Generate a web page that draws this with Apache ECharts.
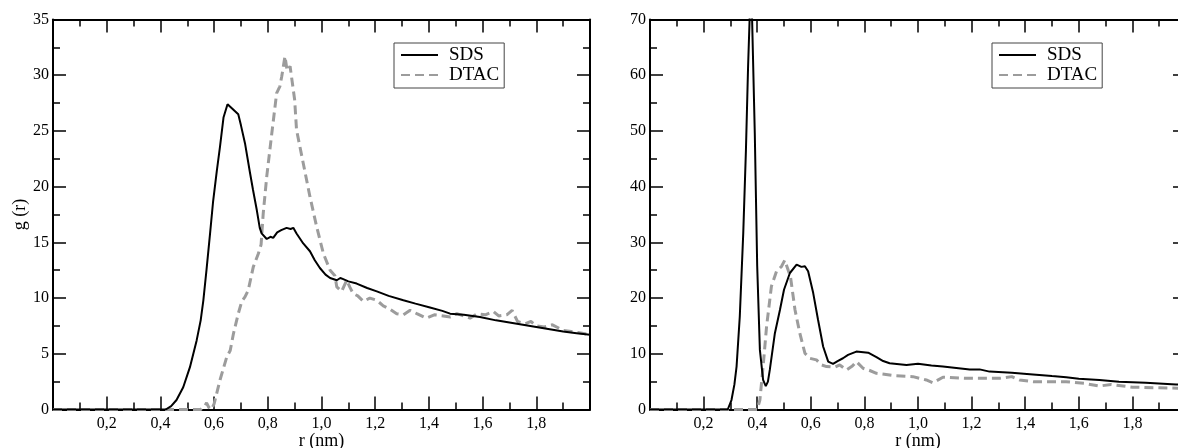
<!DOCTYPE html>
<html>
<head>
<meta charset="utf-8">
<script src="https://cdn.jsdelivr.net/npm/echarts@6/dist/echarts.min.js"></script>
<style>
html,body{margin:0;padding:0;background:#fff;}
#chart{width:1178px;height:448px;}
</style>
</head>
<body>
<div id="chart"></div>
<script>
// ---- Data ----
const seriesNames = ['SDS', 'DTAC'];
const xAxisTitle = 'r (nm)';
const yAxisTitle = 'g (r)';

// Left panel, SDS
const leftSdsR = [0, 0.42, 0.44, 0.46, 0.485, 0.51, 0.535, 0.55, 0.56, 0.572, 0.585, 0.596, 0.61, 0.622, 0.635, 0.65, 0.69, 0.70, 0.715, 0.734, 0.745, 0.759, 0.77, 0.777, 0.796, 0.81, 0.82, 0.835, 0.85, 0.87, 0.885, 0.895, 0.907, 0.932, 0.957, 0.975, 0.994, 1.015, 1.032, 1.057, 1.07, 1.081, 1.1, 1.131, 1.17, 1.206, 1.25, 1.305, 1.35, 1.404, 1.45, 1.479, 1.53, 1.59, 1.65, 1.7, 1.75, 1.8, 1.85, 1.9, 1.95, 2.0];
const leftSdsG = [0, 0, 0.3, 0.85, 2.0, 3.8, 6.2, 8.0, 9.8, 12.6, 15.8, 18.6, 21.4, 23.6, 26.2, 27.4, 26.5, 25.5, 23.9, 21.2, 19.7, 17.9, 16.3, 15.8, 15.3, 15.5, 15.4, 15.9, 16.1, 16.3, 16.2, 16.3, 15.8, 14.9, 14.2, 13.4, 12.7, 12.1, 11.8, 11.6, 11.8, 11.7, 11.5, 11.3, 10.9, 10.6, 10.2, 9.8, 9.5, 9.15, 8.85, 8.6, 8.5, 8.3, 8.0, 7.8, 7.6, 7.4, 7.2, 7.0, 6.85, 6.7];

// Left panel, DTAC
const leftDtacR = [0, 0.55, 0.565, 0.572, 0.58, 0.59, 0.6, 0.622, 0.647, 0.66, 0.672, 0.69, 0.703, 0.715, 0.727, 0.746, 0.765, 0.775, 0.783, 0.796, 0.815, 0.833, 0.845, 0.852, 0.864, 0.872, 0.883, 0.9, 0.907, 0.932, 0.957, 0.982, 1.007, 1.032, 1.05, 1.057, 1.075, 1.094, 1.105, 1.118, 1.135, 1.156, 1.18, 1.206, 1.23, 1.255, 1.28, 1.305, 1.33, 1.355, 1.39, 1.42, 1.454, 1.48, 1.504, 1.53, 1.553, 1.58, 1.61, 1.64, 1.66, 1.69, 1.71, 1.73, 1.76, 1.78, 1.8, 1.83, 1.86, 1.9, 1.93, 1.96, 2.0];
const leftDtacG = [0, 0, 0.3, 0.6, 0.2, 0, 0.5, 2.65, 4.7, 5.3, 6.8, 8.6, 9.7, 10.1, 10.7, 12.8, 14.0, 14.8, 17.6, 20.9, 24.8, 28.4, 29.0, 29.9, 31.7, 30.4, 30.8, 27.8, 25.1, 22.1, 19.1, 16.4, 14.0, 12.5, 12.0, 11.0, 10.6, 11.6, 11.0, 10.4, 10.2, 9.7, 10.0, 9.8, 9.3, 9.0, 8.6, 8.5, 8.9, 8.6, 8.2, 8.5, 8.4, 8.3, 8.6, 8.4, 8.2, 8.6, 8.5, 8.8, 8.4, 8.5, 8.9, 7.9, 7.7, 7.9, 7.5, 7.4, 7.6, 7.1, 7.0, 6.9, 6.7];

// Right panel, SDS
const rightSdsR = [0, 0.29, 0.304, 0.315, 0.323, 0.335, 0.348, 0.358, 0.366, 0.373, 0.377, 0.381, 0.391, 0.4, 0.41, 0.422, 0.432, 0.44, 0.447, 0.466, 0.485, 0.5, 0.522, 0.547, 0.565, 0.578, 0.59, 0.609, 0.627, 0.646, 0.665, 0.683, 0.7, 0.72, 0.739, 0.77, 0.814, 0.845, 0.87, 0.894, 0.957, 1.0, 1.05, 1.093, 1.193, 1.23, 1.267, 1.35, 1.429, 1.5, 1.553, 1.6, 1.677, 1.75, 1.85, 1.963, 2.0];
const rightSdsG = [0, 0, 1.7, 4.5, 7.7, 16.7, 31.7, 46.6, 61.6, 72, 74, 70, 49.6, 25.7, 10.7, 5.3, 4.2, 5.0, 7.1, 13.7, 17.9, 21.5, 24.5, 26.0, 25.6, 25.7, 24.8, 20.9, 16.1, 11.3, 8.6, 8.2, 8.7, 9.2, 9.8, 10.4, 10.2, 9.4, 8.7, 8.3, 8.0, 8.2, 7.9, 7.7, 7.2, 7.2, 6.8, 6.6, 6.3, 6.0, 5.8, 5.5, 5.3, 5.0, 4.8, 4.5, 4.4];

// Right panel, DTAC
const rightDtacR = [0, 0.4, 0.41, 0.422, 0.435, 0.453, 0.472, 0.491, 0.503, 0.51, 0.517, 0.524, 0.541, 0.559, 0.578, 0.596, 0.621, 0.64, 0.659, 0.69, 0.708, 0.733, 0.755, 0.77, 0.795, 0.82, 0.845, 0.907, 0.981, 1.031, 1.056, 1.093, 1.18, 1.267, 1.305, 1.35, 1.379, 1.43, 1.553, 1.62, 1.677, 1.72, 1.8, 1.9, 2.0];
const rightDtacG = [0, 0, 1.7, 7.7, 14.9, 22.1, 24.8, 25.7, 26.8, 26.9, 24.8, 23.9, 17.9, 13.7, 10.1, 9.2, 8.9, 8.0, 7.7, 7.6, 8.0, 7.1, 7.8, 8.6, 7.4, 7.0, 6.5, 6.1, 5.9, 5.3, 4.8, 5.8, 5.6, 5.6, 5.6, 5.9, 5.3, 5.0, 5.0, 4.7, 4.2, 4.5, 4.0, 3.9, 3.8];

// Axis ranges / ticks
const xMin = 0, xMax = 2, xStep = 0.2;
const leftYMax = 35, leftYStep = 5;
const rightYMax = 70, rightYStep = 10;

// ---- Build ----
const zip = (a, b) => a.map((v, i) => [v, b[i]]);
const FONT = 'Liberation Serif';
const BLACK = '#000';
const GRAY = '#9c9c9c';

function xLabel(v) {
  if (Math.abs(v) < 1e-9 || Math.abs(v - xMax) < 1e-9) return '';
  return v.toFixed(1).replace('.', ',');
}

function baseAxis(extra) {
  return Object.assign({
    type: 'value',
    nameMoveOverlap: false,
    axisLine: { show: true, onZero: false, lineStyle: { color: BLACK, width: 2 } },
    axisTick: { show: true, inside: true, length: 13, lineStyle: { color: BLACK, width: 1.5 } },
    minorTick: { show: true, splitNumber: 2, length: 7, lineStyle: { color: BLACK, width: 1.5 } },
    splitLine: { show: false },
    minorSplitLine: { show: false }
  }, extra);
}

const xAxes = [];
const yAxes = [];
[0, 1].forEach(g => {
  xAxes.push(baseAxis({
    gridIndex: g, position: 'bottom', min: xMin, max: xMax, interval: xStep,
    name: xAxisTitle, nameLocation: 'middle', nameGap: 23,
    nameTextStyle: { fontFamily: FONT, fontSize: 18, color: BLACK },
    axisLabel: { show: true, margin: 6, formatter: xLabel, fontFamily: FONT, fontSize: 16, color: BLACK }
  }));
  xAxes.push(baseAxis({
    gridIndex: g, position: 'top', min: xMin, max: xMax, interval: xStep,
    axisLabel: { show: false }
  }));
});
[[0, leftYMax, leftYStep], [1, rightYMax, rightYStep]].forEach(([g, mx, st]) => {
  yAxes.push(baseAxis({
    gridIndex: g, position: 'left', min: 0, max: mx, interval: st,
    name: g === 0 ? yAxisTitle : '', nameLocation: 'middle', nameGap: 24,
    nameTextStyle: { fontFamily: FONT, fontSize: 18, color: BLACK },
    axisLabel: { show: true, margin: 4, fontFamily: FONT, fontSize: 16, color: BLACK }
  }));
  yAxes.push(baseAxis({
    gridIndex: g, position: 'right', min: 0, max: mx, interval: st,
    axisLabel: { show: false }
  }));
});

function lineSeries(name, data, xi, yi) {
  const isSds = name === 'SDS';
  return {
    name, type: 'line', data, xAxisIndex: xi, yAxisIndex: yi,
    symbol: 'none', smooth: false, clip: true, z: isSds ? 3 : 2,
    lineStyle: isSds ? { color: BLACK, width: 2 } : { color: GRAY, width: 3, type: [9, 5] },
    itemStyle: { color: isSds ? BLACK : GRAY }
  };
}

function legendAt(left) {
  return {
    left, top: 43, orient: 'vertical', data: seriesNames, selectedMode: false,
    itemWidth: 37, itemHeight: 14, itemGap: 0, padding: [2, 5, 3, 6],
    borderColor: '#444', borderWidth: 1, backgroundColor: '#fff',
    itemStyle: { opacity: 0 },
    textStyle: { fontFamily: FONT, fontSize: 19, color: BLACK, lineHeight: 20, padding: [0, 0, 0, 6] }
  };
}

const option = {
  animation: false,
  backgroundColor: '#fff',
  textStyle: { fontFamily: FONT },
  grid: [
    { left: 53, top: 19.5, width: 537, height: 390, outerBoundsMode: 'none', containLabel: false },
    { left: 650, top: 19.5, width: 536, height: 390, outerBoundsMode: 'none', containLabel: false }
  ],
  xAxis: xAxes,
  yAxis: yAxes,
  legend: [legendAt(394), legendAt(992)],
  series: [
    lineSeries('DTAC', zip(leftDtacR, leftDtacG), 0, 0),
    lineSeries('SDS', zip(leftSdsR, leftSdsG), 0, 0),
    lineSeries('DTAC', zip(rightDtacR, rightDtacG), 2, 2),
    lineSeries('SDS', zip(rightSdsR, rightSdsG), 2, 2)
  ]
};

const chart = echarts.init(document.getElementById('chart'), null, { renderer: 'canvas' });
chart.setOption(option);
</script>
</body>
</html>
